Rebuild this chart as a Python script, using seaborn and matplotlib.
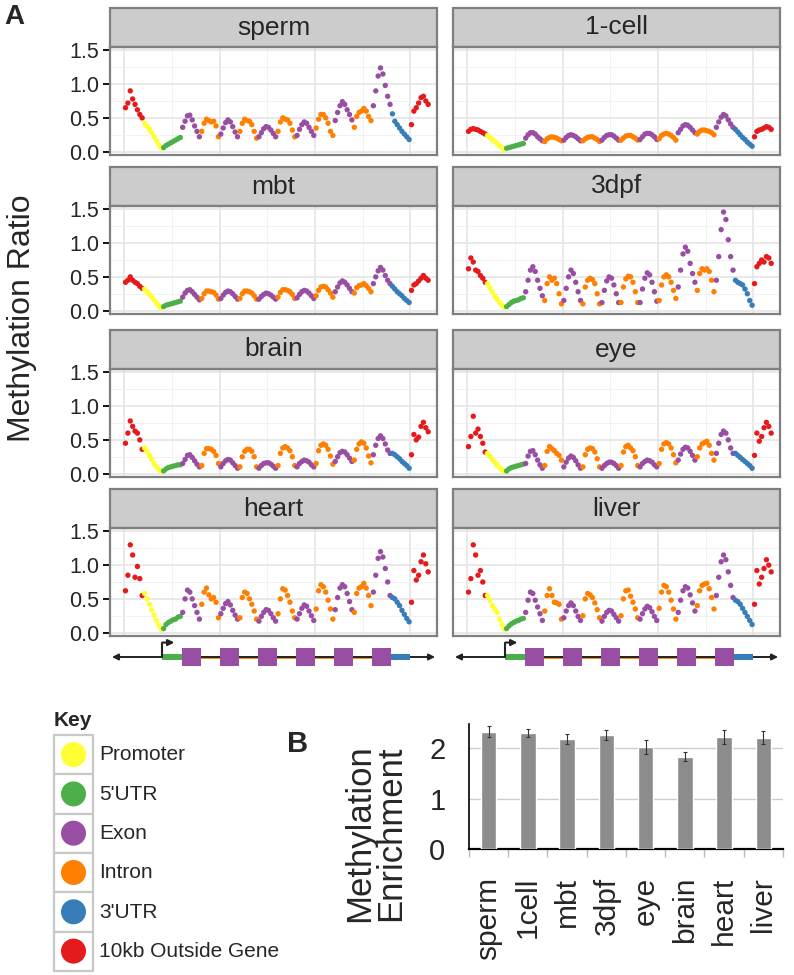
import pandas as pd
import seaborn as sns
import matplotlib.pyplot as plt
from matplotlib.patches import Rectangle, Circle

sns.set_theme(style="white")
plt.rcParams['font.family'] = ['Liberation Sans', 'DejaVu Sans']

# gene model: 16 regions along the metagene, 8 bins each
regions = ["10kb Outside Gene", "Promoter", "5'UTR",
           "Exon", "Intron", "Exon", "Intron", "Exon", "Intron",
           "Exon", "Intron", "Exon", "Intron", "Exon",
           "3'UTR", "10kb Outside Gene"]
bins_per_region = 8
key_order = ["Promoter", "5'UTR", "Exon", "Intron", "3'UTR", "10kb Outside Gene"]
key_colors = ["#FFFF33", "#4DAF4A", "#984EA3", "#FF7F00", "#377EB8", "#E41A1C"]

# methylation ratio per bin
sperm = [0.65, 0.72, 0.90, 0.78, 0.70, 0.62, 0.55, 0.50,
         0.42, 0.38, 0.33, 0.28, 0.22, 0.16, 0.10, 0.05,
         0.06, 0.09, 0.11, 0.13, 0.15, 0.17, 0.19, 0.21,
         0.36, 0.45, 0.53, 0.54, 0.47, 0.38, 0.30, 0.22,
         0.30, 0.42, 0.48, 0.46, 0.44, 0.45, 0.38, 0.22,
         0.26, 0.35, 0.43, 0.47, 0.44, 0.37, 0.29, 0.22,
         0.30, 0.42, 0.48, 0.46, 0.45, 0.40, 0.30, 0.20,
         0.22, 0.28, 0.34, 0.37, 0.36, 0.32, 0.27, 0.22,
         0.30, 0.44, 0.50, 0.48, 0.47, 0.42, 0.32, 0.22,
         0.24, 0.33, 0.40, 0.44, 0.42, 0.36, 0.30, 0.24,
         0.35, 0.48, 0.55, 0.55, 0.50, 0.42, 0.30, 0.24,
         0.46, 0.58, 0.68, 0.74, 0.70, 0.62, 0.55, 0.47,
         0.36, 0.52, 0.58, 0.60, 0.64, 0.60, 0.52, 0.46,
         0.68, 0.90, 1.12, 1.24, 1.15, 0.98, 0.82, 0.70,
         0.56, 0.45, 0.40, 0.35, 0.30, 0.26, 0.22, 0.18,
         0.40, 0.60, 0.65, 0.72, 0.80, 0.82, 0.75, 0.70]

one_cell = [0.30, 0.33, 0.34, 0.33, 0.32, 0.30, 0.28, 0.26,
            0.24, 0.21, 0.18, 0.15, 0.12, 0.09, 0.06, 0.03,
            0.05, 0.06, 0.07, 0.08, 0.09, 0.10, 0.11, 0.12,
            0.20, 0.25, 0.28, 0.28, 0.26, 0.22, 0.19, 0.16,
            0.15, 0.19, 0.21, 0.22, 0.21, 0.20, 0.18, 0.16,
            0.17, 0.21, 0.24, 0.25, 0.24, 0.22, 0.19, 0.16,
            0.16, 0.19, 0.21, 0.22, 0.22, 0.20, 0.18, 0.15,
            0.17, 0.21, 0.24, 0.25, 0.25, 0.23, 0.20, 0.17,
            0.17, 0.20, 0.23, 0.24, 0.24, 0.22, 0.20, 0.17,
            0.18, 0.22, 0.26, 0.27, 0.27, 0.25, 0.22, 0.18,
            0.19, 0.24, 0.26, 0.27, 0.26, 0.24, 0.21, 0.17,
            0.28, 0.33, 0.38, 0.40, 0.39, 0.36, 0.32, 0.28,
            0.26, 0.30, 0.32, 0.32, 0.31, 0.30, 0.28, 0.25,
            0.36, 0.44, 0.51, 0.55, 0.53, 0.47, 0.41, 0.36,
            0.33, 0.29, 0.25, 0.21, 0.18, 0.14, 0.11, 0.08,
            0.22, 0.30, 0.32, 0.33, 0.35, 0.37, 0.36, 0.33]

mbt = [0.42, 0.45, 0.50, 0.45, 0.42, 0.40, 0.36, 0.33,
       0.32, 0.28, 0.24, 0.20, 0.16, 0.11, 0.07, 0.04,
       0.06, 0.08, 0.09, 0.10, 0.11, 0.12, 0.13, 0.14,
       0.20, 0.26, 0.30, 0.31, 0.28, 0.24, 0.20, 0.16,
       0.18, 0.25, 0.29, 0.29, 0.28, 0.27, 0.23, 0.17,
       0.18, 0.23, 0.27, 0.29, 0.28, 0.25, 0.21, 0.17,
       0.18, 0.25, 0.29, 0.29, 0.28, 0.26, 0.22, 0.17,
       0.17, 0.21, 0.24, 0.26, 0.25, 0.23, 0.20, 0.17,
       0.20, 0.27, 0.31, 0.31, 0.30, 0.28, 0.24, 0.18,
       0.19, 0.24, 0.28, 0.30, 0.29, 0.26, 0.22, 0.18,
       0.22, 0.30, 0.35, 0.36, 0.35, 0.31, 0.26, 0.20,
       0.28, 0.35, 0.41, 0.44, 0.42, 0.38, 0.33, 0.28,
       0.26, 0.34, 0.37, 0.38, 0.40, 0.37, 0.33, 0.28,
       0.40, 0.50, 0.59, 0.64, 0.60, 0.52, 0.45, 0.40,
       0.36, 0.32, 0.28, 0.25, 0.22, 0.18, 0.15, 0.12,
       0.30, 0.38, 0.40, 0.44, 0.48, 0.52, 0.48, 0.45]

dpf3 = [0.62, 0.78, 0.72, 0.60, 0.58, 0.52, 0.48, 0.42,
        0.40, 0.34, 0.28, 0.22, 0.17, 0.12, 0.08, 0.05,
        0.06, 0.09, 0.12, 0.14, 0.15, 0.16, 0.18, 0.19,
        0.28, 0.45, 0.60, 0.65, 0.58, 0.45, 0.33, 0.22,
        0.15, 0.40, 0.50, 0.45, 0.48, 0.40, 0.25, 0.10,
        0.15, 0.33, 0.50, 0.60, 0.55, 0.42, 0.28, 0.15,
        0.10, 0.35, 0.45, 0.48, 0.46, 0.40, 0.25, 0.10,
        0.12, 0.30, 0.44, 0.50, 0.48, 0.38, 0.25, 0.12,
        0.12, 0.35, 0.47, 0.51, 0.50, 0.42, 0.28, 0.12,
        0.12, 0.32, 0.48, 0.56, 0.53, 0.42, 0.28, 0.14,
        0.15, 0.38, 0.50, 0.53, 0.50, 0.42, 0.30, 0.18,
        0.35, 0.60, 0.84, 0.94, 0.88, 0.70, 0.55, 0.42,
        0.30, 0.55, 0.62, 0.60, 0.62, 0.58, 0.45, 0.28,
        0.45, 0.80, 1.20, 1.46, 1.35, 1.05, 0.80, 0.60,
        0.45, 0.42, 0.40, 0.38, 0.32, 0.25, 0.15, 0.08,
        0.40, 0.65, 0.70, 0.75, 0.72, 0.80, 0.78, 0.70]

brain = [0.45, 0.60, 0.78, 0.70, 0.63, 0.60, 0.50, 0.36,
         0.38, 0.33, 0.27, 0.21, 0.15, 0.10, 0.06, 0.03,
         0.04, 0.07, 0.09, 0.10, 0.11, 0.12, 0.13, 0.13,
         0.15, 0.21, 0.27, 0.28, 0.24, 0.19, 0.14, 0.10,
         0.12, 0.30, 0.37, 0.37, 0.36, 0.33, 0.27, 0.15,
         0.10, 0.15, 0.19, 0.21, 0.20, 0.16, 0.12, 0.08,
         0.10, 0.25, 0.33, 0.36, 0.36, 0.33, 0.25, 0.10,
         0.08, 0.12, 0.15, 0.16, 0.16, 0.14, 0.11, 0.08,
         0.12, 0.30, 0.38, 0.40, 0.38, 0.34, 0.25, 0.12,
         0.10, 0.15, 0.18, 0.20, 0.19, 0.17, 0.13, 0.10,
         0.15, 0.34, 0.42, 0.44, 0.42, 0.36, 0.26, 0.14,
         0.18, 0.25, 0.31, 0.33, 0.32, 0.28, 0.23, 0.18,
         0.20, 0.36, 0.44, 0.47, 0.45, 0.38, 0.26, 0.16,
         0.28, 0.42, 0.52, 0.56, 0.52, 0.44, 0.35, 0.30,
         0.30, 0.28, 0.25, 0.22, 0.18, 0.15, 0.12, 0.08,
         0.28, 0.58, 0.50, 0.54, 0.70, 0.76, 0.68, 0.62]

eye = [0.40, 0.55, 0.85, 0.60, 0.66, 0.55, 0.45, 0.32,
       0.30, 0.26, 0.21, 0.17, 0.13, 0.09, 0.06, 0.03,
       0.04, 0.07, 0.09, 0.10, 0.11, 0.12, 0.13, 0.14,
       0.15, 0.26, 0.33, 0.34, 0.28, 0.20, 0.13, 0.08,
       0.12, 0.33, 0.40, 0.37, 0.34, 0.30, 0.27, 0.20,
       0.10, 0.17, 0.23, 0.26, 0.24, 0.19, 0.13, 0.08,
       0.10, 0.28, 0.36, 0.38, 0.37, 0.32, 0.22, 0.10,
       0.08, 0.12, 0.15, 0.17, 0.17, 0.15, 0.12, 0.08,
       0.12, 0.32, 0.40, 0.42, 0.38, 0.34, 0.25, 0.12,
       0.10, 0.15, 0.18, 0.20, 0.19, 0.17, 0.13, 0.10,
       0.15, 0.36, 0.44, 0.46, 0.44, 0.38, 0.28, 0.16,
       0.20, 0.29, 0.36, 0.39, 0.38, 0.33, 0.27, 0.20,
       0.25, 0.38, 0.44, 0.46, 0.48, 0.42, 0.30, 0.20,
       0.30, 0.45, 0.58, 0.63, 0.60, 0.50, 0.38, 0.30,
       0.30, 0.27, 0.24, 0.21, 0.18, 0.15, 0.12, 0.08,
       0.27, 0.60, 0.48, 0.55, 0.68, 0.76, 0.70, 0.60]

heart = [0.62, 0.85, 1.30, 1.15, 0.82, 0.98, 0.80, 0.55,
         0.58, 0.50, 0.42, 0.34, 0.26, 0.18, 0.11, 0.05,
         0.06, 0.12, 0.15, 0.17, 0.19, 0.20, 0.23, 0.24,
         0.30, 0.50, 0.63, 0.60, 0.50, 0.40, 0.30, 0.20,
         0.42, 0.60, 0.66, 0.56, 0.50, 0.52, 0.45, 0.22,
         0.28, 0.36, 0.43, 0.46, 0.41, 0.33, 0.26, 0.20,
         0.22, 0.52, 0.60, 0.58, 0.50, 0.42, 0.32, 0.20,
         0.17, 0.24, 0.30, 0.34, 0.33, 0.28, 0.22, 0.17,
         0.28, 0.50, 0.65, 0.63, 0.55, 0.45, 0.32, 0.22,
         0.20, 0.28, 0.36, 0.41, 0.39, 0.32, 0.25, 0.18,
         0.35, 0.62, 0.71, 0.68, 0.60, 0.48, 0.35, 0.20,
         0.34, 0.52, 0.66, 0.71, 0.68, 0.58, 0.46, 0.34,
         0.30, 0.58, 0.66, 0.68, 0.73, 0.66, 0.55, 0.40,
         0.60, 0.85, 1.10, 1.20, 1.12, 0.95, 0.75, 0.55,
         0.52, 0.50, 0.45, 0.40, 0.33, 0.27, 0.21, 0.16,
         0.45, 0.92, 0.78, 0.85, 1.05, 1.15, 1.02, 0.90]

liver = [0.60, 0.80, 1.30, 1.15, 0.85, 0.92, 0.75, 0.55,
         0.55, 0.48, 0.40, 0.35, 0.30, 0.20, 0.12, 0.05,
         0.06, 0.10, 0.13, 0.15, 0.17, 0.18, 0.20, 0.21,
         0.30, 0.48, 0.60, 0.58, 0.48, 0.38, 0.28, 0.18,
         0.32, 0.55, 0.65, 0.55, 0.45, 0.44, 0.42, 0.20,
         0.22, 0.32, 0.40, 0.44, 0.40, 0.32, 0.24, 0.18,
         0.25, 0.50, 0.58, 0.56, 0.52, 0.44, 0.34, 0.22,
         0.17, 0.24, 0.30, 0.33, 0.32, 0.27, 0.22, 0.17,
         0.25, 0.50, 0.62, 0.63, 0.54, 0.45, 0.35, 0.22,
         0.20, 0.28, 0.35, 0.39, 0.37, 0.31, 0.24, 0.18,
         0.36, 0.60, 0.70, 0.68, 0.60, 0.48, 0.35, 0.20,
         0.30, 0.48, 0.62, 0.68, 0.66, 0.56, 0.44, 0.32,
         0.40, 0.62, 0.70, 0.72, 0.73, 0.65, 0.52, 0.35,
         0.55, 0.82, 1.05, 1.15, 1.08, 0.90, 0.70, 0.52,
         0.48, 0.46, 0.42, 0.36, 0.30, 0.24, 0.18, 0.12,
         0.42, 0.92, 0.72, 0.82, 0.95, 1.08, 1.00, 0.90]

panel_names = ["sperm", "1-cell", "mbt", "3dpf", "brain", "eye", "heart", "liver"]
panel_values = [sperm, one_cell, mbt, dpf3, brain, eye, heart, liver]

# panel B
samples_b = ["sperm", "1cell", "mbt", "3dpf", "eye", "brain", "heart", "liver"]
enrichment = [2.33, 2.31, 2.19, 2.26, 2.03, 1.83, 2.23, 2.21]
enrich_err = [0.11, 0.08, 0.10, 0.10, 0.14, 0.09, 0.14, 0.13]

rows = []
for name, vals in zip(panel_names, panel_values):
    for i, v in enumerate(vals):
        rows.append({"sample": name, "bin": i,
                     "region": regions[i // bins_per_region], "ratio": v})
df = pd.DataFrame(rows)
palette = dict(zip(key_order, key_colors))

W, H = 794, 975
fig = plt.figure(figsize=(W / 100, H / 100), dpi=100)


def box(x0, y0, x1, y1):
    return [x0 / W, 1 - y1 / H, (x1 - x0) / W, (y1 - y0) / H]


n_bins = len(regions) * bins_per_region
xlim = (-6.5, n_bins + 2.7)
col_x = [(110, 437), (453, 780)]
row_top = [47, 206, 369, 528]
panel_h, strip_h = 108, 39
border = "#7f7f7f"

for k, name in enumerate(panel_names):
    r, c = divmod(k, 2)
    x0, x1 = col_x[c]
    top = row_top[r]
    ax = fig.add_axes(box(x0, top, x1, top + panel_h))
    sns.scatterplot(data=df[df["sample"] == name], x="bin", y="ratio",
                    hue="region", hue_order=key_order, palette=palette,
                    s=15, linewidth=0, legend=False, ax=ax, zorder=3)
    ax.set_xlim(*xlim)
    ax.set_ylim(-0.05, 1.55)
    ax.set_xticks([-0.5 + 40 * j for j in range(4)])
    ax.set_xticks([19.5 + 40 * j for j in range(3)], minor=True)
    ax.set_yticks([0, 0.5, 1.0, 1.5])
    ax.set_yticks([0.25, 0.75, 1.25], minor=True)
    ax.grid(which="major", color="#e3e3e3", lw=1.1)
    ax.grid(which="minor", color="#f0f0f0", lw=0.6)
    ax.set_axisbelow(True)
    ax.set_xlabel("")
    ax.set_ylabel("")
    ax.tick_params(axis="x", which="both", length=0, labelbottom=False)
    ax.tick_params(axis="y", which="minor", length=0)
    if c == 0:
        ax.set_yticklabels(["0.0", "0.5", "1.0", "1.5"])
        ax.tick_params(axis="y", which="major", length=5, width=1.3,
                       color="black", labelsize=15.5, pad=3, left=True)
    else:
        ax.tick_params(axis="y", which="major", length=0, labelleft=False)
    for sp in ax.spines.values():
        sp.set_color(border)
        sp.set_linewidth(1.6)
    ax.add_patch(Rectangle((0, 1), 1, strip_h / panel_h, transform=ax.transAxes,
                           fc="#cccccc", ec=border, lw=1.6, clip_on=False))
    ax.text(0.5, 1 + strip_h / panel_h / 2, name, transform=ax.transAxes,
            ha="center", va="center", fontsize=19)

fig.text(22 / W, 1 - 318 / H, "Methylation Ratio", rotation=90,
         ha="center", va="center", fontsize=23)
fig.text(4 / W, 1 - 17 / H, "A", ha="left", va="center",
         fontsize=20, fontweight="bold")

# gene structure under each column
for x0, x1 in col_x:
    g = fig.add_axes(box(x0, 640, x1, 674))
    g.set_xlim(*xlim)
    g.set_ylim(-1, 1)
    g.axis("off")
    g.annotate("", xy=(xlim[0] + 0.8, 0), xytext=(xlim[1] - 0.8, 0),
               arrowprops=dict(arrowstyle="<|-|>", lw=1.4, color="#222222",
                               mutation_scale=9, shrinkA=0, shrinkB=0))
    edges = [-0.5 + bins_per_region * i for i in range(len(regions) + 1)]
    g.plot([edges[3], edges[14]], [0, 0], color=key_colors[3], lw=2, zorder=2)
    for i, reg in enumerate(regions):
        if reg == "Exon":
            h = 0.55
        elif reg in ("5'UTR", "3'UTR"):
            h = 0.2
        else:
            continue
        g.add_patch(Rectangle((edges[i], -h), edges[i + 1] - edges[i], 2 * h,
                              fc=palette[reg], ec="none", zorder=3))
    g.plot([edges[2], edges[2]], [0, 0.85], color="#222222", lw=1.5, zorder=4)
    g.annotate("", xy=(edges[2] + 5, 0.85), xytext=(edges[2], 0.85),
               arrowprops=dict(arrowstyle="-|>", lw=1.5, color="#222222",
                               mutation_scale=9, shrinkA=0, shrinkB=0))

# key
k = fig.add_axes(box(0, 700, 280, 975))
k.set_xlim(0, 280)
k.set_ylim(975, 700)
k.axis("off")
k.text(54, 721, "Key", fontsize=15, fontweight="bold", va="center", ha="left")
for i, (lab, col) in enumerate(zip(key_order, key_colors)):
    y0 = 735 + i * 39.3
    k.add_patch(Rectangle((54, y0), 39, 39.3, fc="white", ec="#c8c8c8", lw=1.6))
    k.add_patch(Circle((73.5, y0 + 19.6), 12.5, fc=col, ec="none"))
    k.text(99, y0 + 20, lab, fontsize=15, va="center", ha="left")

# panel B
b = fig.add_axes(box(469, 724, 783, 849))
sns.barplot(x=samples_b, y=enrichment, color="#8c8c8c", width=0.4,
            saturation=1, ax=b, zorder=3)
b.errorbar(range(len(samples_b)), enrichment, yerr=enrich_err, fmt="none",
           ecolor="#333333", elinewidth=0.8, capsize=1.5, capthick=0.8, zorder=4)
b.set_xlim(-0.5, len(samples_b) - 0.5)
b.set_ylim(0, 2.48)
b.set_yticks([0, 1, 2])
b.grid(axis="y", color="#cccccc", lw=1)
b.set_axisbelow(True)
b.tick_params(axis="y", length=0, labelsize=21, pad=17)
b.tick_params(axis="x", which="major", length=0, labelsize=21.5, pad=20,
              labelrotation=90)
b.set_xticks([i - 0.5 for i in range(len(samples_b) + 1)], minor=True)
b.tick_params(axis="x", which="minor", length=6, width=1, color="#bbbbbb",
              bottom=True)
for side in ("top", "right"):
    b.spines[side].set_visible(False)
b.spines["left"].set_color("black")
b.spines["left"].set_linewidth(1.2)
b.spines["bottom"].set_color("black")
b.spines["bottom"].set_linewidth(1.6)
fig.text(375 / W, 1 - 833 / H, "Methylation\nEnrichment", rotation=90,
         ha="center", va="center", fontsize=25, linespacing=0.95)
fig.text(287 / W, 1 - 744 / H, "B", ha="left", va="center",
         fontsize=21, fontweight="bold")

fig.savefig("out.png", dpi=100)
